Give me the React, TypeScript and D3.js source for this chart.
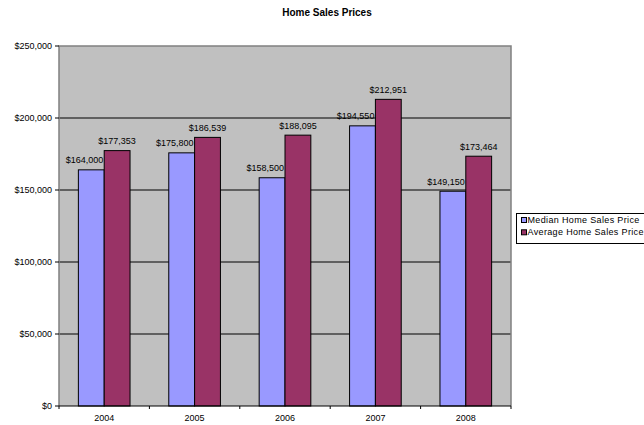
import React from "react";
import * as d3 from "d3";

const years = ["2004", "2005", "2006", "2007", "2008"];
const medianPrices = [164000, 175800, 158500, 194550, 149150];
const averagePrices = [177353, 186539, 188095, 212951, 173464];
const seriesNames = ["Median Home Sales Price", "Average Home Sales Price"];
const seriesColors = ["#9999FF", "#993366"];
const yTicks = [0, 50000, 100000, 150000, 200000, 250000];
const title = "Home Sales Prices";

const W = 644, H = 425;
const L = 59, R = 511, T = 46, B = 406;
const FONT = "'Liberation Sans', Arial, sans-serif";

export default function App() {
  const x = d3.scaleBand<string>().domain(years).range([L, R]).padding(0);
  const y = d3.scaleLinear().domain([0, 250000]).range([B, T]);
  const bw = x.bandwidth() / 3.5;
  const fmt = (v: number) => "$" + d3.format(",")(v);
  const series = [medianPrices, averagePrices];

  return (
    <svg width={W} height={H} style={{ position: "absolute", left: 0, top: 0 }} fontFamily={FONT}>
      <rect x={0} y={0} width={W} height={H} fill="#fff" />
      <text x={327} y={16} textAnchor="middle" fontSize={10} fontWeight="bold">{title}</text>
      <rect x={L} y={T} width={R - L} height={B - T} fill="#C0C0C0" />
      {yTicks.filter(t => t > 0 && t < 250000).map(t => (
        <line key={t} x1={L} x2={R} y1={y(t)} y2={y(t)} stroke="#000" strokeWidth={1} />
      ))}
      <path d={`M${L},${B} V${T} H${R} V${B}`} fill="none" stroke="#808080" strokeWidth={1.5} />
      {years.map((yr, i) => {
        const x0 = (x(yr) as number) + x.bandwidth() / 2 - bw;
        return (
          <g key={yr}>
            {series.map((s, k) => (
              <rect key={k} x={x0 + k * bw} y={y(s[i])} width={bw} height={B - y(s[i])}
                fill={seriesColors[k]} stroke="#000" strokeWidth={1} />
            ))}
            <text x={x0 + bw - 1} y={y(medianPrices[i]) - 6.5} textAnchor="end" fontSize={9} fill="#000">{fmt(medianPrices[i])}</text>
            <text x={x0 + bw * 1.5} y={y(averagePrices[i]) - 6.5} textAnchor="middle" fontSize={9} fill="#000">{fmt(averagePrices[i])}</text>
          </g>
        );
      })}
      <line x1={L} x2={R} y1={B} y2={B} stroke="#000" strokeWidth={1} />
      {years.map((yr, i) => (
        <line key={"t" + i} x1={(x(yr) as number)} x2={(x(yr) as number)} y1={B} y2={B + 3} stroke="#000" />
      ))}
      <line x1={R} x2={R} y1={B} y2={B + 3} stroke="#000" />
      {years.map(yr => (
        <text key={"l" + yr} x={(x(yr) as number) + x.bandwidth() / 2} y={421} textAnchor="middle" fontSize={9}>{yr}</text>
      ))}
      {yTicks.map(t => (
        <g key={"y" + t}>
          <line x1={L - 4} x2={L} y1={y(t)} y2={y(t)} stroke="#000" />
          <text x={52} y={y(t)} dy="0.35em" textAnchor="end" fontSize={9}>{fmt(t)}</text>
        </g>
      ))}
      <rect x={516.5} y={213.5} width={140} height={30} fill="#fff" stroke="#000" strokeWidth={1} />
      {seriesNames.map((n, k) => (
        <g key={n}>
          <rect x={521.5} y={217.5 + k * 12.3} width={5} height={5} fill={seriesColors[k]} stroke="#000" strokeWidth={1} />
          <text x={527.5} y={223 + k * 12.3} fontSize={9} letterSpacing={0.35}>{n}</text>
        </g>
      ))}
    </svg>
  );
}
